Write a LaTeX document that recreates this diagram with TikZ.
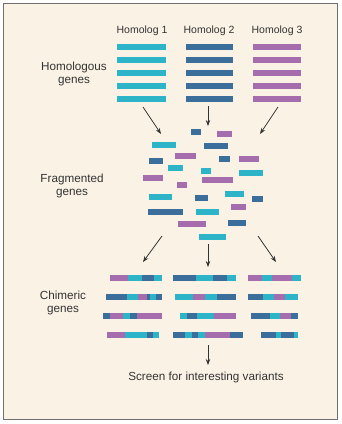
\documentclass[tikz,border=0pt]{standalone}
\usepackage{fontspec}
\setmainfont{Liberation Sans}
\usetikzlibrary{arrows.meta}
\definecolor{cy}{HTML}{2EB4C9}
\definecolor{db}{HTML}{3C6E9C}
\definecolor{pu}{HTML}{A66DAE}
\definecolor{bg}{HTML}{FAF3E5}
\definecolor{fr}{HTML}{707070}
\definecolor{tx}{HTML}{333333}
\newcommand\barseg[4]{\fill[#1] (#2,#4) rectangle (#3,#4+6);}
\begin{document}
\begin{tikzpicture}[x=1pt,y=-1pt,
  lbl/.style={text=tx,font=\fontsize{11.7}{12.5}\selectfont,align=center,inner sep=0pt},
  hlbl/.style={text=tx,font=\fontsize{10.5}{12}\selectfont,inner sep=0pt},
  arr/.style={draw=tx,line width=0.8pt,-{Stealth[length=6pt,width=4.5pt]}}]
\useasboundingbox (0,0) rectangle (341,424);
\fill[white] (0,0) rectangle (341,424);
\draw[fr,fill=bg,line width=1pt] (3.5,3.5) rectangle (337,419.5);
% headers
\node[hlbl] (h1) at (142,31) {Homolog 1};
\node[hlbl] (h2) at (209,31) {Homolog 2};
\node[hlbl] (h3) at (277,31) {Homolog 3};
% homologous genes
\foreach \y in {44,57,69.5,83,96}{
  \barseg{cy}{117}{166}{\y}
  \barseg{db}{186}{233}{\y}
  \barseg{pu}{253}{301}{\y}
}
\node[lbl] (lhom) at (74,74) {Homologous\\genes};
\node[lbl] (lfrag) at (72,186) {Fragmented\\genes};
\node[lbl] (lchim) at (63,303) {Chimeric\\genes};
% fragments
\foreach \xa/\xb/\ya/\c in {
  191/201/128.5/db, 217/232/130.5/pu, 152/176/142/cy, 204/228/143/db,
  175/196/152.5/pu, 219/230/155.5/db, 239/259/156/pu, 149/163/158/db,
  168/183/164.5/cy, 201/211/168/cy, 239/263/170/cy, 143/163/175/pu,
  202/233/176.5/pu, 177/187/181.5/pu, 149/172/194/cy, 195/208/194.5/db,
  225/244/191/cy, 252/263/195.5/db, 231/246/203.5/pu, 148/183/209/db,
  196/219/209/cy, 178/206/220.5/pu, 228/246/219.5/db, 199/226/234/cy}{
  \barseg{\c}{\xa}{\xb}{\ya}
}
% chimeric genes
\foreach \xa/\xb/\ya/\c in {
  110/128.3/274.5/pu, 128.3/141.7/274.5/cy, 141.7/154.3/274.5/db, 154.3/162.3/274.5/cy,
  106/127.3/294/db, 127.3/138.3/294/cy, 138.3/147.3/294/pu, 147.3/150/294/db, 150/156/294/cy, 156/162.3/294/db,
  102.7/110/313/db, 110/123.3/313/pu, 123.3/130/313/cy, 130/136.7/313/db, 136.7/162.3/313/pu,
  107.3/125/332/pu, 125/146.7/332/cy, 146.7/153.3/332/db, 153.3/159/332/cy,
  173/196.3/274.5/db, 196.3/213/274.5/cy, 213/227.3/274.5/db, 227.3/236.3/274.5/cy,
  175.3/193/294/cy, 193/205.3/294/pu, 205.3/217.3/294/cy, 217.3/236.3/294/db,
  180.3/187/313/cy, 187/197/313/db, 197/213.7/313/cy, 213.7/236.3/313/pu,
  173/184.7/332/db, 184.7/192/332/cy, 192/198/332/db, 198/205.3/332/cy, 205.3/230.3/332/pu, 230.3/243/332/db,
  248/262.3/274.5/pu, 262.3/272.3/274.5/cy, 272.3/292.3/274.5/pu, 292.3/300.7/274.5/cy,
  248/263/294/db, 263/274/294/cy, 274/284.7/294/pu, 284.7/298/294/cy,
  250.7/270/313/db, 270/280/313/cy, 280/290.7/313/pu, 290.7/298/313/db,
  260.7/275.7/332/db, 275.7/280.7/332/cy, 280.7/294/332/db, 294/298/332/cy}{
  \barseg{\c}{\xa}{\xb}{\ya}
}
% arrow end points
\coordinate (a1s) at (143,107); \coordinate (a1e) at (161,134);
\coordinate (a2s) at (208,106); \coordinate (a2e) at (208,126);
\coordinate (a3s) at (278,107); \coordinate (a3e) at (260,134);
\coordinate (b1s) at (162,236); \coordinate (b1e) at (143,262);
\coordinate (b2s) at (208,244); \coordinate (b2e) at (208,267);
\coordinate (b3s) at (258,236); \coordinate (b3e) at (276,262);
\coordinate (cs) at (208,345); \coordinate (ce) at (208,365);
\node[lbl] (scr) at (206,377) {Screen for interesting variants};
\draw[arr] (a1s) -- (a1e);
\draw[arr] (a2s) -- (a2e);
\draw[arr] (a3s) -- (a3e);
\draw[arr] (b1s) -- (b1e);
\draw[arr] (b2s) -- (b2e);
\draw[arr] (b3s) -- (b3e);
\draw[arr] (cs) -- (ce);
\end{tikzpicture}
\end{document}
